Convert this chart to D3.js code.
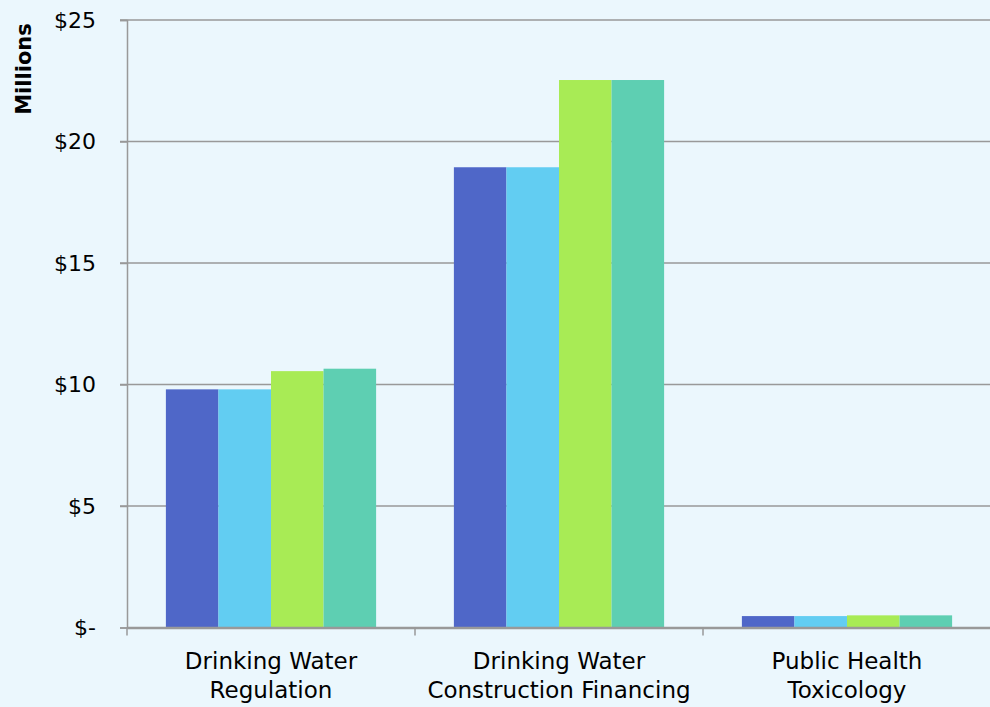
<!DOCTYPE html>
<html>
<head>
<meta charset="utf-8">
<script src="https://cdn.jsdelivr.net/npm/d3@7"></script>
<style>
  html, body { margin: 0; padding: 0; background: #ebf7fd; }
  svg { display: block; }
  text { font-family: "DejaVu Sans", sans-serif; fill: #000; }
</style>
</head>
<body>
<svg id="chart"></svg>
<script>
const categories = [['Drinking Water', 'Regulation'], ['Drinking Water', 'Construction Financing'], ['Public Health', 'Toxicology']];
const seriesNames = ['Series 1', 'Series 2', 'Series 3', 'Series 4'];
const seriesValues = [
  [9.8, 18.94, 0.47],
  [9.8, 18.94, 0.47],
  [10.55, 22.53, 0.5],
  [10.65, 22.53, 0.5]
];
const colors = ['#4f67c8', '#62cdf2', '#a8eb55', '#5ecfb2'];
const tickValues = [0, 5, 10, 15, 20, 25];
const tickLabels = ['$-', '$5', '$10', '$15', '$20', '$25'];

const width = 990, height = 707;
const margin = { top: 20, right: 0, bottom: 80, left: 127 };

const svg = d3.select('#chart').attr('width', width).attr('height', height);

const x = d3.scaleBand()
  .domain(d3.range(categories.length))
  .range([margin.left, 991])
  .paddingInner(0)
  .paddingOuter(0);

const inner = d3.scaleBand()
  .domain(d3.range(seriesNames.length))
  .range([0, x.bandwidth()])
  .paddingOuter(0.74)
  .paddingInner(0);

const y = d3.scaleLinear()
  .domain([0, 25])
  .range([627.5, margin.top]);

// gridlines
svg.append('g')
  .selectAll('line')
  .data(tickValues.slice(1))
  .enter()
  .append('line')
  .attr('x1', margin.left - 7)
  .attr('x2', width)
  .attr('y1', d => y(d))
  .attr('y2', d => y(d))
  .attr('stroke', '#999')
  .attr('stroke-width', 1.5);

// bars
const groups = svg.append('g')
  .selectAll('g')
  .data(seriesValues)
  .enter()
  .append('g');

groups.selectAll('rect')
  .data((d, i) => d.map((v, j) => ({ v, j, i })))
  .enter()
  .append('rect')
  .attr('x', d => x(d.j) + inner(d.i))
  .attr('y', d => y(d.v))
  .attr('width', inner.bandwidth())
  .attr('height', d => y(0) - y(d.v))
  .attr('fill', d => colors[d.i]);

// y axis
const yAxis = svg.append('g')
  .attr('transform', `translate(${margin.left},0)`)
  .call(d3.axisLeft(y).tickValues(tickValues).tickFormat((d, i) => tickLabels[i]).tickSize(7).tickPadding(24));
yAxis.select('.domain').attr('stroke', '#999').attr('stroke-width', 1.5);
yAxis.selectAll('.tick line').attr('stroke', '#999').attr('stroke-width', 1.5);
yAxis.selectAll('.tick text').style('font-size', '22px').attr('fill', '#000');

// x axis
const xAxis = svg.append('g')
  .attr('transform', `translate(0,${y(0)})`)
  .call(d3.axisBottom(x).tickSize(0).tickFormat(''));
xAxis.select('.domain').attr('stroke', '#999').attr('stroke-width', 2.5);

svg.append('g')
  .selectAll('line')
  .data(d3.range(categories.length + 1))
  .enter()
  .append('line')
  .attr('x1', d => margin.left + d * x.step())
  .attr('x2', d => margin.left + d * x.step())
  .attr('y1', y(0))
  .attr('y2', y(0) + 8)
  .attr('stroke', '#999')
  .attr('stroke-width', 1.5);

const labels = svg.append('g')
  .selectAll('text')
  .data(categories)
  .enter()
  .append('text')
  .attr('text-anchor', 'middle')
  .style('font-size', '23px')
  .attr('x', (d, i) => x(i) + x.bandwidth() / 2)
  .attr('y', 669);
labels.selectAll('tspan')
  .data(d => d)
  .enter()
  .append('tspan')
  .attr('x', function () { return this.parentNode.getAttribute('x'); })
  .attr('dy', (d, i) => i === 0 ? 0 : 29)
  .text(d => d);

// y title
svg.append('text')
  .attr('transform', 'translate(31,69) rotate(-90)')
  .attr('text-anchor', 'middle')
  .style('font-size', '21px')
  .style('font-weight', 'bold')
  .text('Millions');
</script>
</body>
</html>
